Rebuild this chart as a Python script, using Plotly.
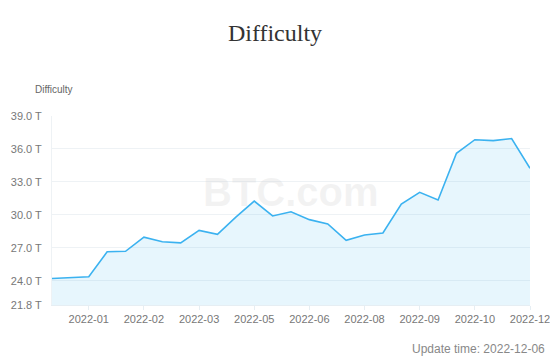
import plotly.graph_objects as go

dates = ["2021-12-10", "2021-12-24", "2022-01-07", "2022-01-21", "2022-02-04",
         "2022-02-18", "2022-03-03", "2022-03-17", "2022-03-31", "2022-04-14",
         "2022-04-28", "2022-05-11", "2022-05-25", "2022-06-08", "2022-06-23",
         "2022-07-07", "2022-07-21", "2022-08-04", "2022-08-18", "2022-08-31",
         "2022-09-13", "2022-09-27", "2022-10-10", "2022-10-24", "2022-11-07",
         "2022-11-21", "2022-12-06"]
difficulty_t = [24.21, 24.27, 24.37, 26.64, 26.69, 27.97, 27.55, 27.45, 28.59, 28.23,
                29.79, 31.25, 29.90, 30.28, 29.57, 29.17, 27.69, 28.17, 28.35, 30.98,
                32.05, 31.36, 35.61, 36.84, 36.76, 36.95, 34.24]
y_ticks = [21.8, 24.0, 27.0, 30.0, 33.0, 36.0, 39.0]
x_tick_idx = [2, 5, 8, 11, 14, 17, 20, 23, 26]

fig = go.Figure()
fig.add_trace(go.Scatter(
    x=dates, y=difficulty_t, mode="lines",
    line=dict(color="#3bb2f0", width=1.6),
    fill="tozeroy", fillcolor="rgba(59,178,240,0.12)",
    hoverinfo="x+y",
))

fig.update_layout(
    width=550, height=358,
    margin=dict(l=52, r=20, t=116, b=53, autoexpand=False),
    paper_bgcolor="white", plot_bgcolor="white",
    showlegend=False,
    title=dict(text="Difficulty", x=0.5, xanchor="center", y=0.91, yanchor="middle",
               font=dict(family="Liberation Serif, Times New Roman, serif", size=24, color="#333333")),
    font=dict(family="Liberation Sans, Arial, sans-serif", color="#777777", size=11),
    xaxis=dict(
        type="category",
        tickvals=[dates[i] for i in x_tick_idx],
        ticktext=[dates[i][:7] for i in x_tick_idx],
        showgrid=False, showline=True, linecolor="#e6eef3", linewidth=1,
        ticks="outside", ticklen=4, tickcolor="#e6eef3",
        tickfont=dict(size=11, color="#777777"),
        range=[0, len(dates) - 1], automargin=False,
    ),
    yaxis=dict(
        range=[21.8, 39.0],
        tickvals=y_ticks,
        ticktext=[f"{v:.1f} T" for v in y_ticks],
        showgrid=True, gridcolor="#eef2f5", gridwidth=1,
        zeroline=False, showline=True, linecolor="#eef2f5",
        tickfont=dict(size=11, color="#777777"),
        ticks="", ticklabelstandoff=7, automargin=False,
    ),
    annotations=[
        dict(text="Difficulty", xref="paper", yref="paper", x=-0.04, y=1.1,
             xanchor="left", yanchor="bottom", showarrow=False,
             font=dict(size=10, color="#666666")),
        dict(text="<b>BTC.com</b>", xref="paper", yref="paper", x=0.5, y=0.6,
             xanchor="center", yanchor="middle", showarrow=False,
             font=dict(size=40, color="rgba(200,200,200,0.22)",
                       family="Liberation Sans, Arial, sans-serif")),
        dict(text="Update time: 2022-12-06", xref="paper", yref="paper", x=1.035, y=-0.233,
             xanchor="right", yanchor="middle", showarrow=False,
             font=dict(size=12, color="#888888")),
    ],
)

fig.write_html("out.html", config={"displayModeBar": False},
               post_script="document.body.style.margin='0';")
